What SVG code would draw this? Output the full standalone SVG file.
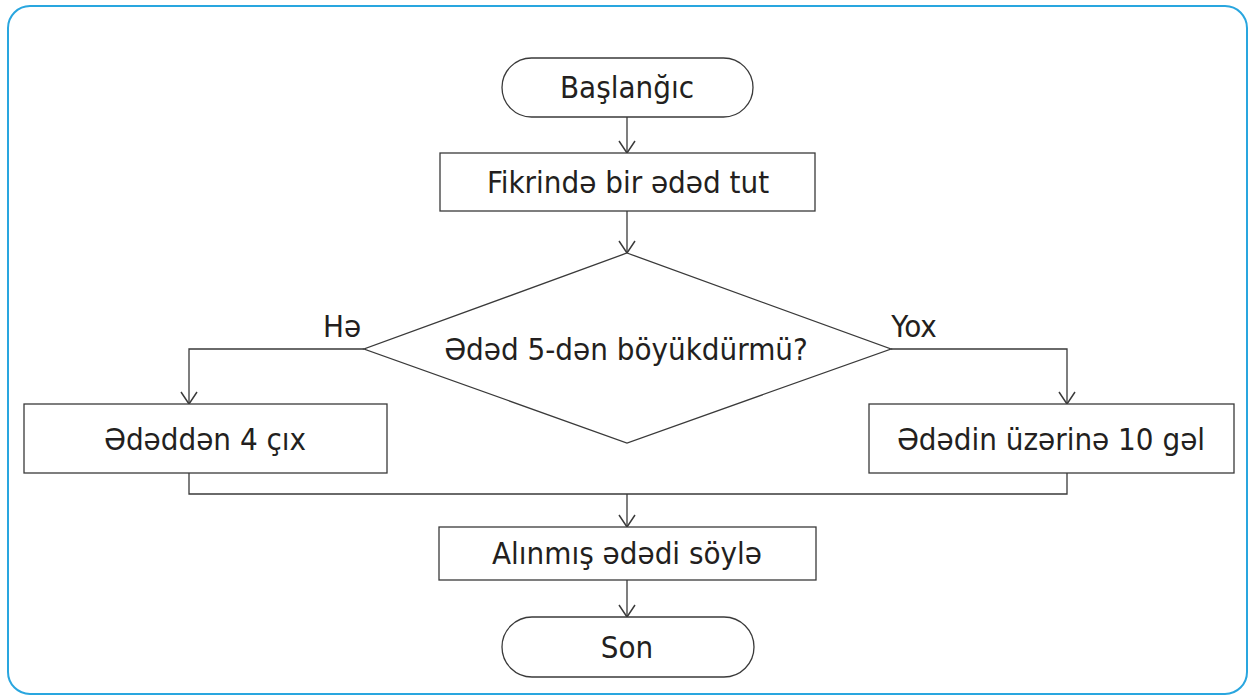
<svg xmlns="http://www.w3.org/2000/svg" width="1254" height="700" viewBox="0 0 1254 700">
<defs>
<style>
.frame{fill:#fff;stroke:#29a6df;stroke-width:2}
.shape{fill:#fff;stroke:#3a3a3a;stroke-width:1.3}
.line{fill:none;stroke:#3a3a3a;stroke-width:1.3}
.t{font-family:"DejaVu Sans Condensed","DejaVu Sans",sans-serif;font-stretch:condensed;font-size:31px;fill:#231f20;text-anchor:middle;dominant-baseline:central}
</style>
<marker id="arr" viewBox="-1 -1 14 18" refX="12" refY="8" markerWidth="14" markerHeight="18" orient="auto" markerUnits="userSpaceOnUse">
<path d="M0,0 L12,8 L0,16" fill="none" stroke="#3a3a3a" stroke-width="1.5"/>
</marker>
</defs>
<rect class="frame" x="8" y="6" width="1239" height="688" rx="22"/>
<g id="connectors">
<path class="line" d="M627,117 V153" marker-end="url(#arr)"/>
<path class="line" d="M627,211 V253" marker-end="url(#arr)"/>
<path class="line" d="M364,349 H189 V404" marker-end="url(#arr)"/>
<path class="line" d="M891,349 H1067 V404" marker-end="url(#arr)"/>
<path class="line" d="M189,473 V494 H1067 V473"/>
<path class="line" d="M627,494 V527" marker-end="url(#arr)"/>
<path class="line" d="M627,580 V617" marker-end="url(#arr)"/>
<text class="t" x="342" y="326">Hə</text>
<text class="t" x="914" y="326">Yox</text>
</g>
<g id="start">
<rect class="shape" x="502" y="58" width="251" height="59" rx="29.5"/>
<text class="t" x="627" y="87">Başlanğıc</text>
</g>
<g id="think">
<rect class="shape" x="440" y="153" width="375" height="58"/>
<text class="t" x="628" y="182">Fikrində bir ədəd tut</text>
</g>
<g id="decision">
<polygon class="shape" points="627,253 891,349 627,443 364,349"/>
<text class="t" x="626" y="349">Ədəd 5-dən böyükdürmü?</text>
</g>
<g id="subtract">
<rect class="shape" x="24" y="404" width="363" height="69"/>
<text class="t" x="205" y="439">Ədəddən 4 çıx</text>
</g>
<g id="add">
<rect class="shape" x="869" y="404" width="365" height="69"/>
<text class="t" x="1051" y="439">Ədədin üzərinə 10 gəl</text>
</g>
<g id="say">
<rect class="shape" x="439" y="527" width="377" height="53"/>
<text class="t" x="627" y="553">Alınmış ədədi söylə</text>
</g>
<g id="end">
<rect class="shape" x="502" y="617" width="252" height="60" rx="30"/>
<text class="t" x="627" y="647">Son</text>
</g>
</svg>
